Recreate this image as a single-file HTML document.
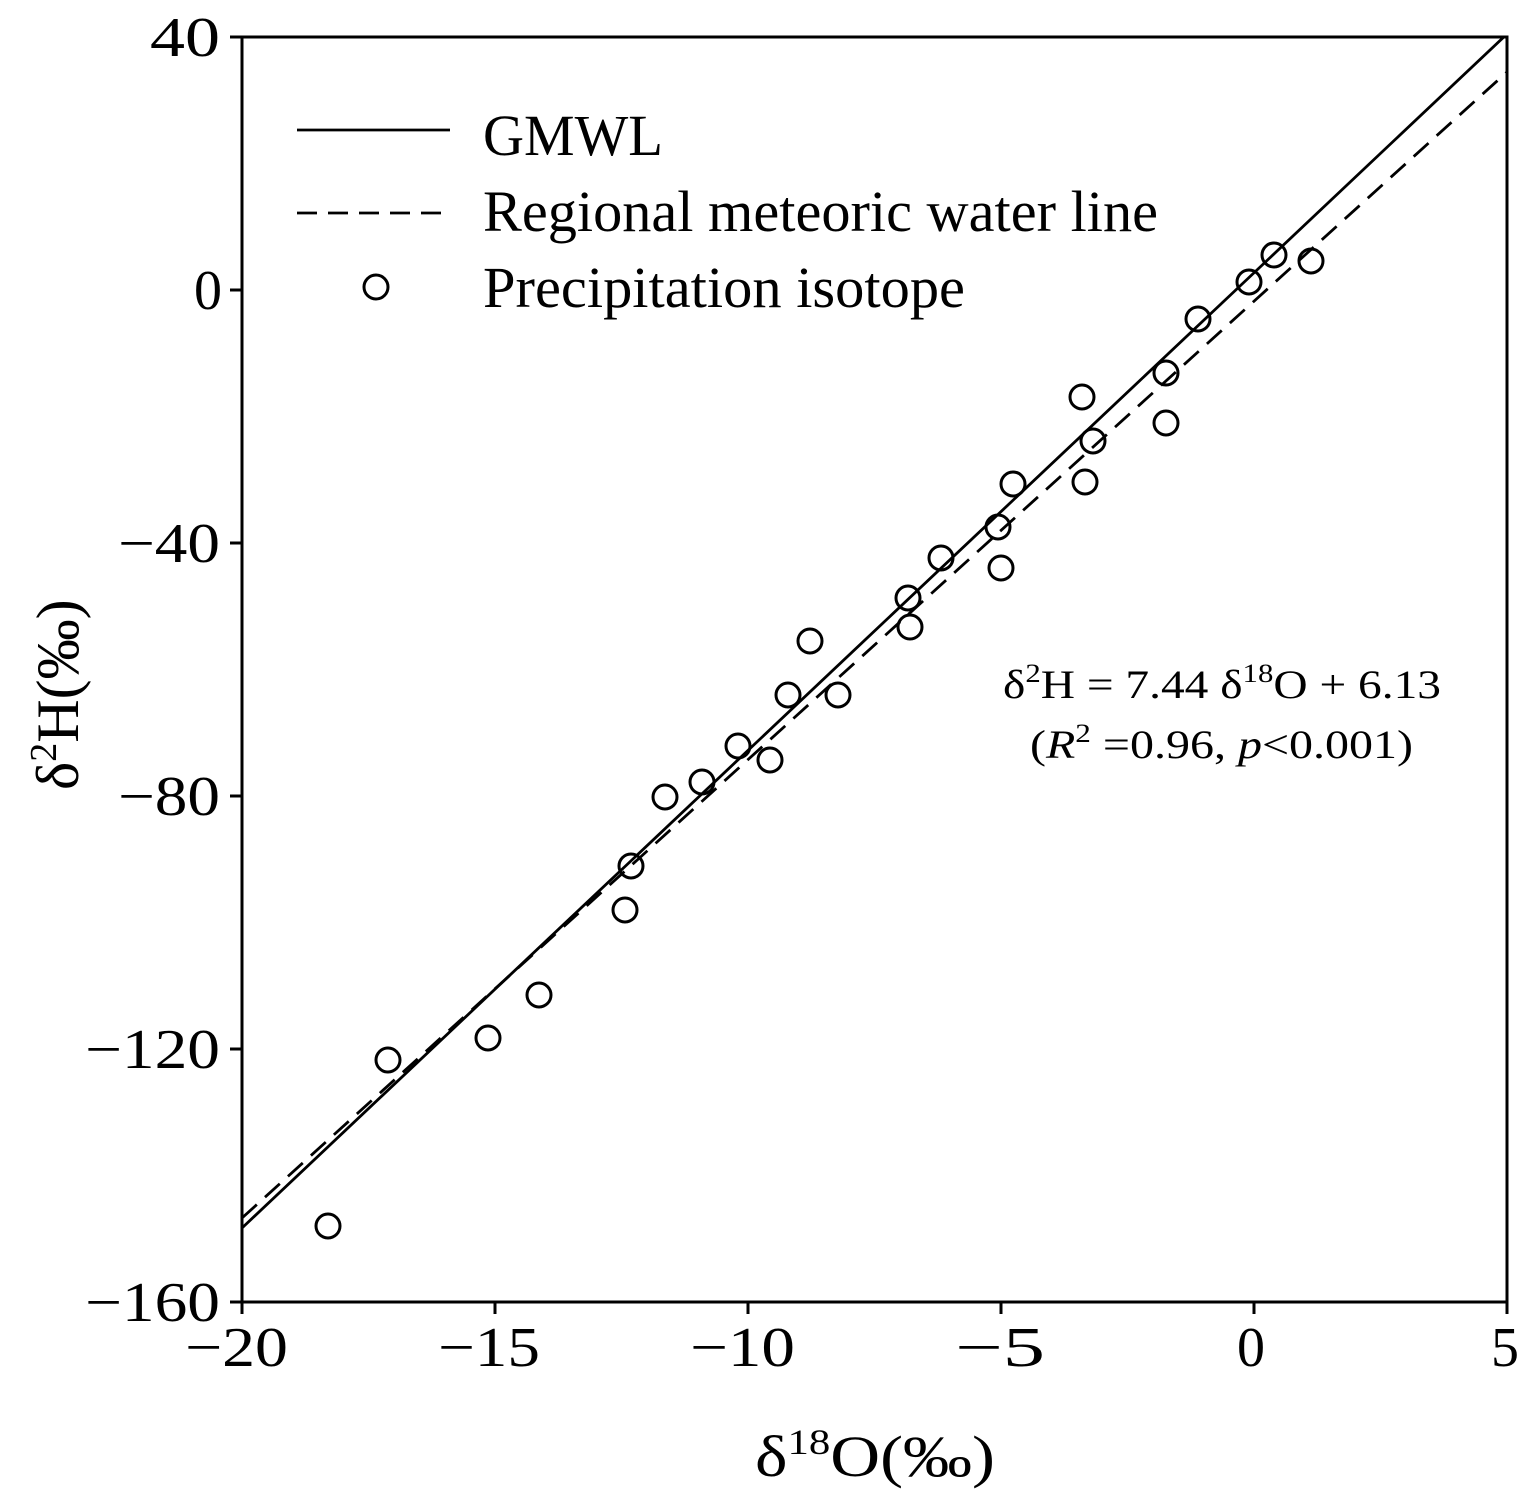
<!DOCTYPE html>
<html><head><meta charset="utf-8"><style>body{margin:0;background:#fff}</style></head>
<body>
<svg width="1533" height="1502" xmlns="http://www.w3.org/2000/svg" font-family="Liberation Serif, serif">
<defs><clipPath id="c"><rect x="242" y="37" width="1265" height="1265"/></clipPath></defs>
<g clip-path="url(#c)" stroke="#000" stroke-width="2.8" fill="none">
<line x1="242" y1="1228" x2="1507" y2="34"/>
<line x1="242" y1="1218" x2="1507" y2="72" stroke-dasharray="20,11"/>
</g>
<rect x="242" y="37" width="1265" height="1265" fill="none" stroke="#000" stroke-width="3"/>
<g stroke="#000" stroke-width="3">
<line x1="230" y1="37" x2="242" y2="37"/><line x1="230" y1="290" x2="242" y2="290"/><line x1="230" y1="543" x2="242" y2="543"/><line x1="230" y1="796" x2="242" y2="796"/><line x1="230" y1="1049" x2="242" y2="1049"/><line x1="230" y1="1302" x2="242" y2="1302"/>
<line x1="242" y1="1302" x2="242" y2="1314"/><line x1="495" y1="1302" x2="495" y2="1314"/><line x1="748" y1="1302" x2="748" y2="1314"/><line x1="1001" y1="1302" x2="1001" y2="1314"/><line x1="1254" y1="1302" x2="1254" y2="1314"/><line x1="1507" y1="1302" x2="1507" y2="1314"/>
</g>
<g font-size="56">
<text x="150" y="56" textLength="70" lengthAdjust="spacingAndGlyphs">40</text>
<text x="194" y="309">0</text>
<text x="118" y="562" textLength="102" lengthAdjust="spacingAndGlyphs">−40</text>
<text x="118" y="815" textLength="102" lengthAdjust="spacingAndGlyphs">−80</text>
<text x="85" y="1068" textLength="135" lengthAdjust="spacingAndGlyphs">−120</text>
<text x="85" y="1321" textLength="135" lengthAdjust="spacingAndGlyphs">−160</text>
<text x="185" y="1366" textLength="103" lengthAdjust="spacingAndGlyphs">−20</text>
<text x="438" y="1366" textLength="102" lengthAdjust="spacingAndGlyphs">−15</text>
<text x="690" y="1366" textLength="105" lengthAdjust="spacingAndGlyphs">−10</text>
<text x="955" y="1366" textLength="90" lengthAdjust="spacingAndGlyphs">−5</text>
<text x="1237" y="1366">0</text>
<text x="1491" y="1366">5</text>
</g>
<text x="755" y="1476" font-size="58" textLength="240" lengthAdjust="spacingAndGlyphs">δ<tspan font-size="36" dy="-22">18</tspan><tspan dy="22">O(‰)</tspan></text>
<text transform="translate(78,790) rotate(-90)" font-size="60">δ<tspan font-size="38" dy="-22">2</tspan><tspan dy="22">H(‰)</tspan></text>
<g stroke="#000" stroke-width="2.8">
<line x1="297" y1="130" x2="450" y2="130"/>
<line x1="297" y1="213" x2="450" y2="213" stroke-dasharray="20,11"/>
</g>
<circle cx="376" cy="287" r="12" fill="none" stroke="#000" stroke-width="3"/>
<g font-size="58">
<text x="483" y="155" textLength="180" lengthAdjust="spacingAndGlyphs">GMWL</text>
<text x="483" y="231" textLength="675" lengthAdjust="spacingAndGlyphs">Regional meteoric water line</text>
<text x="483" y="307" textLength="482" lengthAdjust="spacingAndGlyphs">Precipitation isotope</text>
</g>
<g font-size="40">
<text x="1003" y="698" textLength="438" lengthAdjust="spacingAndGlyphs">δ<tspan font-size="26" dy="-16">2</tspan><tspan dy="16">H = 7.44 δ</tspan><tspan font-size="26" dy="-16">18</tspan><tspan dy="16">O + 6.13</tspan></text>
<text x="1030" y="758" textLength="383" lengthAdjust="spacingAndGlyphs">(<tspan font-style="italic">R</tspan><tspan font-size="26" dy="-16">2</tspan><tspan dy="16"> =0.96, </tspan><tspan font-style="italic">p</tspan>&lt;0.001)</text>
</g>
<g fill="none" stroke="#000" stroke-width="3">
<circle cx="328" cy="1226" r="12"/><circle cx="388" cy="1060" r="12"/><circle cx="488" cy="1038" r="12"/><circle cx="539" cy="995" r="12"/><circle cx="625" cy="910" r="12"/><circle cx="631" cy="866" r="12"/><circle cx="665" cy="797" r="12"/><circle cx="702" cy="782" r="12"/><circle cx="738" cy="746" r="12"/><circle cx="770" cy="760" r="12"/><circle cx="788" cy="695" r="12"/><circle cx="810" cy="641" r="12"/><circle cx="838" cy="695" r="12"/><circle cx="908" cy="598" r="12"/><circle cx="910" cy="627" r="12"/><circle cx="941" cy="558" r="12"/><circle cx="998" cy="527" r="12"/><circle cx="1001" cy="568" r="12"/><circle cx="1013" cy="484" r="12"/><circle cx="1082" cy="397" r="12"/><circle cx="1085" cy="482" r="12"/><circle cx="1093" cy="441" r="12"/><circle cx="1166" cy="373" r="12"/><circle cx="1166" cy="423" r="12"/><circle cx="1198" cy="319" r="12"/><circle cx="1249" cy="282" r="12"/><circle cx="1274" cy="255" r="12"/><circle cx="1311" cy="261" r="12"/>
</g>
</svg>
</body></html>
